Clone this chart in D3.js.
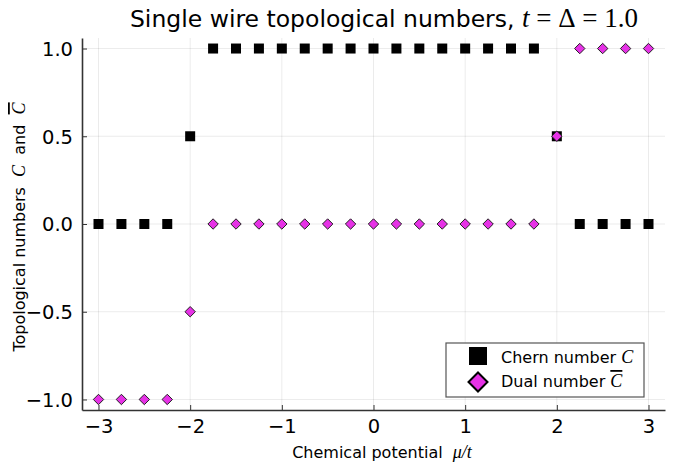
<!DOCTYPE html>
<html>
<head>
<meta charset="utf-8">
<script src="https://cdn.jsdelivr.net/npm/d3@7"></script>
<style>
  body { margin: 0; background: #fff; }
  svg { display: block; }
</style>
</head>
<body>
<div id="chart"></div>
<script>
// chemical potential values
const mu = [-3, -2.75, -2.5, -2.25, -2, -1.75, -1.5, -1.25, -1, -0.75, -0.5, -0.25, 0,
            0.25, 0.5, 0.75, 1, 1.25, 1.5, 1.75, 2, 2.25, 2.5, 2.75, 3];
const chern = [0, 0, 0, 0, 0.5, 1, 1, 1, 1, 1, 1, 1, 1, 1, 1, 1, 1, 1, 1, 1, 0.5, 0, 0, 0, 0];
const dual = [-1, -1, -1, -1, -0.5, 0, 0, 0, 0, 0, 0, 0, 0, 0, 0, 0, 0, 0, 0, 0, 0.5, 1, 1, 1, 1];
const xTicks = [-3, -2, -1, 0, 1, 2, 3];
const yTicks = [-1, -0.5, 0, 0.5, 1];

var width = 673, height = 465;
var margin = {top: 38, right: 8, bottom: 55, left: 82};

var svg = d3.select("#chart")
  .append("svg")
    .attr("width", width)
    .attr("height", height);

var x = d3.scaleLinear()
    .domain([-3.18, 3.18])
    .range([margin.left, width - margin.right]);

var y = d3.scaleLinear()
    .domain([-1.06, 1.06])
    .range([height - margin.bottom, margin.top]);

const fmtY = d => d3.format(".1f")(d).replace("-", "\u2212");
const fmtX = d => String(d).replace("-", "\u2212");
const NB = "\u00a0";
const SERIF = "'Liberation Serif', serif";

// grid
svg.append("g")
  .selectAll("line")
  .data(xTicks)
  .enter().append("line")
    .attr("x1", d => x(d)).attr("x2", d => x(d))
    .attr("y1", margin.top).attr("y2", height - margin.bottom)
    .attr("stroke", "#000").attr("stroke-opacity", 0.08);

svg.append("g")
  .selectAll("line")
  .data(yTicks)
  .enter().append("line")
    .attr("y1", d => y(d)).attr("y2", d => y(d))
    .attr("x1", margin.left).attr("x2", width - margin.right)
    .attr("stroke", "#000").attr("stroke-opacity", 0.08);

// axes
var xAxis = svg.append("g")
  .attr("transform", "translate(0," + (height - margin.bottom) + ")")
  .call(d3.axisBottom(x).tickValues(xTicks).tickSizeInner(-5).tickSizeOuter(0).tickPadding(9).tickFormat(fmtX));
xAxis.select(".domain").attr("stroke", "#333").attr("stroke-width", 1.6);
xAxis.selectAll(".tick line").attr("stroke", "#333");
xAxis.selectAll("text")
  .style("font-family", "DejaVu Sans").style("font-size", "19.5px").attr("fill", "#000");

var yAxis = svg.append("g")
  .attr("transform", "translate(" + margin.left + ",0)")
  .call(d3.axisLeft(y).tickValues(yTicks).tickSizeInner(-5).tickSizeOuter(0).tickPadding(9).tickFormat(fmtY));
yAxis.select(".domain").attr("stroke", "#333").attr("stroke-width", 1.6);
yAxis.selectAll(".tick line").attr("stroke", "#333");
yAxis.selectAll("text")
  .style("font-family", "DejaVu Sans").style("font-size", "19.5px").attr("fill", "#000")
  .attr("dy", "0.35em");

// markers
var sq = 10;
svg.append("g")
  .selectAll("rect")
  .data(mu.map((m, i) => [m, chern[i]]))
  .enter().append("rect")
    .attr("x", d => x(d[0]) - sq / 2)
    .attr("y", d => y(d[1]) - sq / 2)
    .attr("width", sq).attr("height", sq)
    .attr("fill", "#000");

var diamond = r => `M0,${-r}L${r},0L0,${r}L${-r},0Z`;
svg.append("g")
  .selectAll("path")
  .data(mu.map((m, i) => [m, dual[i]]))
  .enter().append("path")
    .attr("transform", d => "translate(" + x(d[0]) + "," + y(d[1]) + ")")
    .attr("d", diamond(5.2))
    .attr("fill", "#e632e6")
    .attr("stroke", "#222").attr("stroke-width", 1);

// title
var title = svg.append("text")
  .attr("x", 384).attr("y", 27)
  .attr("text-anchor", "middle")
  .style("font-family", "DejaVu Sans").style("font-size", "23.5px");
title.append("tspan").text("Single wire topological numbers, ");
title.append("tspan").style("font-family", SERIF).style("font-style", "italic").style("font-size", "27px").text("t");
title.append("tspan").style("font-family", SERIF).style("font-size", "27px")
  .text(NB + "=" + NB + "\u0394" + NB + "=" + NB + "1.0");

// x label
var xl = svg.append("text")
  .attr("x", 382).attr("y", 458)
  .attr("text-anchor", "middle")
  .style("font-family", "DejaVu Sans").style("font-size", "16px");
xl.append("tspan").text("Chemical potential" + NB + NB);
xl.append("tspan").style("font-family", SERIF).style("font-style", "italic").style("font-size", "18px").text("\u03bc/t");

// y label
var yl = svg.append("text")
  .attr("transform", "translate(25,227) rotate(-90)")
  .attr("text-anchor", "middle")
  .style("font-family", "DejaVu Sans").style("font-size", "16px");
yl.append("tspan").text("Topological numbers" + NB + NB);
yl.append("tspan").style("font-family", SERIF).style("font-style", "italic").style("font-size", "18px").text("C");
yl.append("tspan").text(NB + NB + "and" + NB + NB);
yl.append("tspan").style("font-family", SERIF).style("font-style", "italic").style("font-size", "18px").style("text-decoration", "overline").text("C");

// legend
var lg = svg.append("g").attr("transform", "translate(446,343)");
lg.append("rect")
  .attr("width", 198).attr("height", 54)
  .attr("fill", "#fff").attr("stroke", "#555").attr("stroke-width", 1.2);
lg.append("rect")
  .attr("x", 23).attr("y", 4).attr("width", 18).attr("height", 18)
  .attr("fill", "#000");
lg.append("path")
  .attr("transform", "translate(32,39)")
  .attr("d", diamond(9.5))
  .attr("fill", "#e632e6").attr("stroke", "#000").attr("stroke-width", 2);

var l1 = lg.append("text").attr("x", 55).attr("y", 20)
  .style("font-family", "DejaVu Sans").style("font-size", "16px");
l1.append("tspan").text("Chern number ");
l1.append("tspan").style("font-family", SERIF).style("font-style", "italic").style("font-size", "18px").text("C");

var l2 = lg.append("text").attr("x", 55).attr("y", 44)
  .style("font-family", "DejaVu Sans").style("font-size", "16px");
l2.append("tspan").text("Dual number ");
l2.append("tspan").style("font-family", SERIF).style("font-style", "italic").style("font-size", "18px").style("text-decoration", "overline").text("C");
</script>
</body>
</html>
